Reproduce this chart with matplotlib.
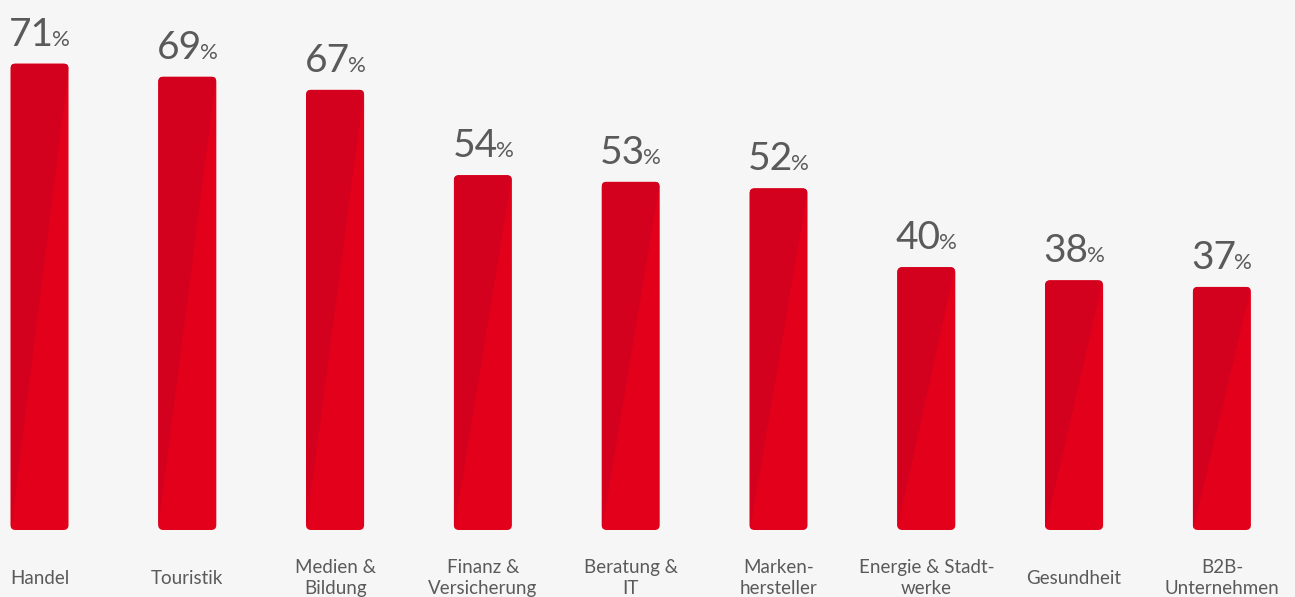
import matplotlib
matplotlib.use("Agg")
import matplotlib.pyplot as plt
from matplotlib.patches import FancyBboxPatch, Polygon

plt.rcParams["font.family"] = ["Lato", "DejaVu Sans"]

kategorien = [
    "Handel",
    "Touristik",
    "Medien &\nBildung",
    "Finanz &\nVersicherung",
    "Beratung &\nIT",
    "Marken-\nhersteller",
    "Energie & Stadt-\nwerke",
    "Gesundheit",
    "B2B-\nUnternehmen",
]
werte = [71, 69, 67, 54, 53, 52, 40, 38, 37]

HINTERGRUND = "#F6F6F6"
ROT_HELL = "#E2001A"
ROT_DUNKEL = "#D3001E"
GRAU = "#5A5A5A"

fig = plt.figure(figsize=(12.95, 5.97), dpi=100, facecolor=HINTERGRUND)
ax = fig.add_axes([0, 0, 1, 1])
ax.set_facecolor(HINTERGRUND)

# Pixel-Maßstab: 147.8 px pro Kategorie, 6.57 px pro Prozentpunkt
px_x = 1 / 147.8
px_y = 1 / 6.57
ax.set_xlim(-39.5 * px_x, (1295 - 39.5) * px_x)
ax.set_ylim(-67 * px_y, 530 * px_y)
ax.axis("off")

breite = 58 * px_x
radius = 5 * px_x
aspekt = px_y / px_x

for i, w in enumerate(werte):
    x0 = i - breite / 2
    balken = FancyBboxPatch(
        (x0, 0), breite, w,
        boxstyle=f"round,pad=0,rounding_size={radius}",
        mutation_aspect=aspekt,
        facecolor=ROT_HELL, edgecolor="none",
    )
    ax.add_patch(balken)
    # dunklere Diagonale oben links
    schatten = Polygon(
        [(x0, 0), (x0, w), (x0 + breite, w)],
        closed=True, facecolor=ROT_DUNKEL, edgecolor="none",
    )
    ax.add_patch(schatten)
    schatten.set_clip_path(balken)

    ax.text(i, -48 * px_y, kategorien[i], ha="center", va="center",
            fontsize=13.5, color=GRAU, linespacing=1.22)

# Werte mit kleinem Prozentzeichen, zentriert über dem Balken
fig.canvas.draw()
r = fig.canvas.get_renderer()
for i, w in enumerate(werte):
    y = w + 18 * px_y
    t1 = ax.text(i, y, str(w), ha="left", va="baseline", fontsize=28, color=GRAU)
    t2 = ax.text(i, y, "%", ha="left", va="baseline", fontsize=16, color=GRAU)
    w1 = t1.get_window_extent(r).width
    w2 = t2.get_window_extent(r).width
    mitte = ax.transData.transform((i, y))[0]
    links = mitte - (w1 + w2 - 2) / 2
    x1 = ax.transData.inverted().transform((links, 0))[0]
    x2 = ax.transData.inverted().transform((links + w1 - 2, 0))[0]
    t1.set_x(x1)
    t2.set_x(x2)

fig.savefig("out.png", dpi=100, facecolor=HINTERGRUND)
